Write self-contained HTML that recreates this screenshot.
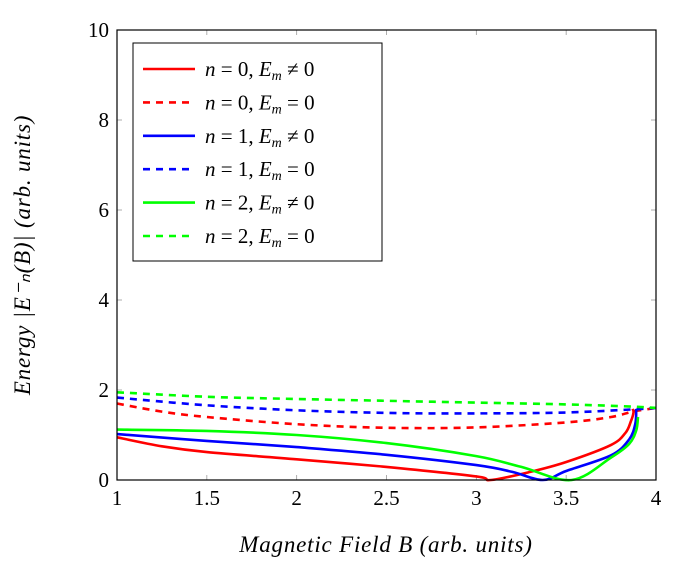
<!DOCTYPE html>
<html><head><meta charset="utf-8"><style>
body{margin:0;background:#fff}
svg text{font-family:"Liberation Serif",serif}
</style></head><body>
<svg id="c" width="680" height="575" xmlns="http://www.w3.org/2000/svg"></svg>
<script>
const xTicks=[1,1.5,2,2.5,3,3.5,4];
const xTickLabels=["1","1.5","2","2.5","3","3.5","4"];
const yTicks=[0,2,4,6,8,10];
const yTickLabels=["0","2","4","6","8","10"];
const seriesNames=["n0-nonzero","n0-zero","n1-nonzero","n1-zero","n2-nonzero","n2-zero"];
const r0B=[1,1.25,1.5,2,2.5,3,3.08,3.3,3.5,3.75,3.83,3.86,3.875,3.87];
const r0E=[0.95,0.75,0.62,0.46,0.29,0.08,0,0.18,0.4,0.78,1.05,1.3,1.5,1.58];
const r0dB=[1,1.25,1.5,2,2.5,3,3.5,3.75,3.87,4];
const r0dE=[1.7,1.52,1.4,1.24,1.16,1.17,1.28,1.4,1.52,1.6];
const b1B=[1,1.5,2,2.5,3,3.2,3.37,3.5,3.75,3.85,3.885,3.89];
const b1E=[1.02,0.87,0.73,0.56,0.33,0.18,0,0.2,0.55,0.9,1.25,1.58];
const b1dB=[1,1.5,2,2.5,3,3.5,3.87,4];
const b1dE=[1.83,1.66,1.55,1.49,1.48,1.5,1.57,1.6];
const g2B=[1,1.5,2,2.5,3,3.25,3.53,3.75,3.85,3.89,3.9];
const g2E=[1.12,1.09,1.0,0.82,0.53,0.29,0,0.5,0.8,1.1,1.4];
const g2dB=[1,1.5,2,2.5,3,3.5,3.87,4];
const g2dE=[1.95,1.85,1.8,1.76,1.72,1.68,1.63,1.6];

const L=117,R=656,T=30,Bt=480;
const sx=b=>L+(b-1)/3*(R-L);
const sy=e=>Bt-e/10*(Bt-T);
const svg=document.getElementById('c');
const NS="http://www.w3.org/2000/svg";
function mk(t,a,txt){const e=document.createElementNS(NS,t);for(const k in a)e.setAttribute(k,a[k]);if(txt!=null)e.textContent=txt;svg.appendChild(e);return e;}

xTicks.forEach((v,i)=>{
 const t1=mk('line',{x1:sx(v),x2:sx(v),y1:Bt,y2:Bt-5,stroke:'#999','stroke-width':0.8});
 
 
 const t2=mk('line',{x1:sx(v),x2:sx(v),y1:T,y2:T+5,stroke:'#999','stroke-width':0.8});
 
 
 const lb=mk('text',{x:sx(v),y:Bt+25,'text-anchor':'middle','font-size':21},xTickLabels[i]);
 
 
});
yTicks.forEach((v,i)=>{
 const t1=mk('line',{x1:L,x2:L+5,y1:sy(v),y2:sy(v),stroke:'#999','stroke-width':0.8});
 
 
 const t2=mk('line',{x1:R,x2:R-5,y1:sy(v),y2:sy(v),stroke:'#999','stroke-width':0.8});
 
 
 const lb=mk('text',{x:L-8,y:sy(v)+7,'text-anchor':'end','font-size':21},yTickLabels[i]);
 
 
});

function smooth(pts){
 let d='M'+pts[0][0].toFixed(1)+','+pts[0][1].toFixed(1);
 for(let i=0;i<pts.length-1;i++){
  const p0=pts[Math.max(0,i-1)],p1=pts[i],p2=pts[i+1],p3=pts[Math.min(pts.length-1,i+2)];
  const c1=[p1[0]+(p2[0]-p0[0])/6,p1[1]+(p2[1]-p0[1])/6];
  const c2=[p2[0]-(p3[0]-p1[0])/6,p2[1]-(p3[1]-p1[1])/6];
  d+=' C'+c1[0].toFixed(1)+','+c1[1].toFixed(1)+' '+c2[0].toFixed(1)+','+c2[1].toFixed(1)+' '+p2[0].toFixed(1)+','+p2[1].toFixed(1);
 }
 return d;
}
function line(bs,es,col,dash,name){
 const pts=bs.map((b,i)=>[sx(b),sy(es[i])]);
 const p=mk('path',{d:smooth(pts),fill:'none',stroke:col,'stroke-width':2.6,'stroke-linejoin':'round','stroke-dasharray':dash?'7,6':'none'});
 
 
}
line(r0dB,r0dE,'#f00',true,seriesNames[1]);
line(b1dB,b1dE,'#00f',true,seriesNames[3]);
line(g2dB,g2dE,'#0f0',true,seriesNames[5]);
line(r0B,r0E,'#f00',false,seriesNames[0]);
line(b1B,b1E,'#00f',false,seriesNames[2]);
line(g2B,g2E,'#0f0',false,seriesNames[4]);

const fr=mk('rect',{x:L,y:T,width:R-L,height:Bt-T,fill:'none',stroke:'#000','stroke-width':1.2});



const lg=mk('rect',{x:133,y:43,width:249,height:218,fill:'#fff',stroke:'#000','stroke-width':1});


const lcols=['#f00','#f00','#00f','#00f','#0f0','#0f0'];
const lns=['0','0','1','1','2','2'];
for(let i=0;i<6;i++){
 const y=69+i*33.4;
 const l=mk('line',{x1:143,x2:195,y1:y,y2:y,stroke:lcols[i],'stroke-width':2.6,'stroke-dasharray':i%2?'7,6':'none'});
 
 
 const t=mk('text',{x:205,y:y+7,'font-size':21});
 t.innerHTML='<tspan font-style="italic">n</tspan> = '+lns[i]+', <tspan font-style="italic">E</tspan><tspan font-size="14" dy="4" font-style="italic">m</tspan><tspan dy="-4"> '+(i%2?'=':'≠')+' 0</tspan>';
 
 
}

const xt=mk('text',{x:386,y:552,'text-anchor':'middle','font-size':23,'font-style':'italic','letter-spacing':'0.8'},'Magnetic Field B (arb. units)');


const yt=mk('text',{x:0,y:0,'text-anchor':'middle','font-size':23,'font-style':'italic','letter-spacing':'0.8',transform:'translate(30,255) rotate(-90)'},'Energy |E⁻ₙ(B)| (arb. units)');


</script>
</body></html>
